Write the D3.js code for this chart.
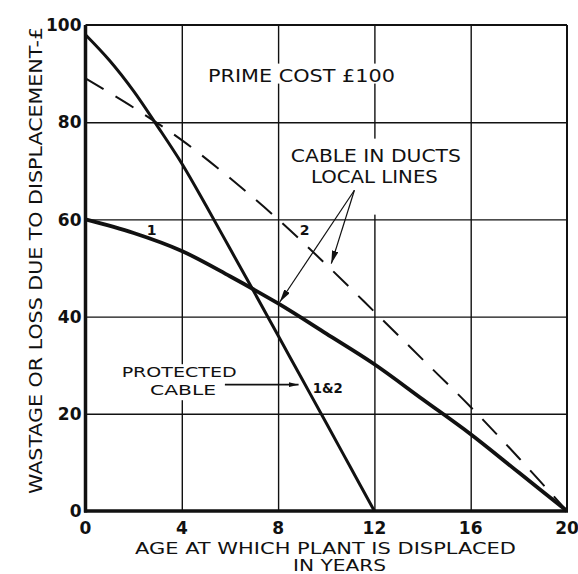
<!DOCTYPE html>
<html><head><meta charset="utf-8">
<script src="https://cdn.jsdelivr.net/npm/d3@7"></script>
<style>
body{margin:0;background:#fff}
svg{display:block}
text{font-family:"DejaVu Sans",sans-serif;fill:#111}
</style>
</head><body>
<svg id="c" width="578" height="574"></svg>
<script>
// ---- data ----
const xTicks = [0, 4, 8, 12, 16, 20];
const yTicks = [0, 20, 40, 60, 80, 100];
const protectedX = [0, 1, 2, 3, 4, 5, 6, 7, 8, 9, 10, 11, 12];
const protectedY = [98, 92.7, 86.4, 79.1, 71.5, 62.9, 54.0, 45.1, 36.1, 27.1, 18.1, 9.05, 0];
const ductsX = [0, 2, 4, 6, 8, 10, 12, 14, 16, 18, 20];
const ducts1Y = [60, 57.2, 53.5, 48.3, 42.7, 36.5, 30.2, 23.0, 15.8, 7.9, 0];
const ducts2Y = [89, 83.0, 76.3, 68.5, 60, 50.7, 41.0, 31.2, 21.4, 10.9, 0];
const xTitle1 = "AGE AT WHICH PLANT IS DISPLACED";
const xTitle2 = "IN YEARS";
const yTitle = "WASTAGE OR LOSS DUE TO DISPLACEMENT-£";

// ---- layout ----
const svg = d3.select("#c");
const L = 85.5, R = 567, T = 25, B = 511;
const x = d3.scaleLinear([0, 20], [L, R]);
const y = d3.scaleLinear([0, 100], [B, T]);
const ink = "#111";

// grid
const g = svg.append("g");
g.append("g").attr("transform", `translate(0,${B})`)
  .call(d3.axisBottom(x).tickValues(xTicks.slice(1, -1)).tickSize(-(B - T)).tickFormat(""))
  .call(s => s.select(".domain").remove())
  .call(s => s.selectAll("line").attr("stroke", ink).attr("stroke-width", 1.4));
g.append("g").attr("transform", `translate(${L},0)`)
  .call(d3.axisLeft(y).tickValues(yTicks.slice(1, -1)).tickSize(-(R - L)).tickFormat(""))
  .call(s => s.select(".domain").remove())
  .call(s => s.selectAll("line").attr("stroke", ink).attr("stroke-width", 1.4));

// frame
g.append("line").attr("x1", x(0)).attr("x2", x(20)).attr("y1", y(100)).attr("y2", y(100)).attr("stroke", ink).attr("stroke-width", 2);
g.append("line").attr("x1", x(20)).attr("x2", x(20)).attr("y1", y(100)).attr("y2", y(0)).attr("stroke", ink).attr("stroke-width", 2);

// white knock-outs behind lettering
function knock(cx, cy, w, h) {
  svg.append("rect").attr("x", x(cx) - w / 2).attr("y", y(cy) - h / 2).attr("width", w).attr("height", h).attr("fill", "#fff");
}
knock(8.97, 90.0, 194, 20);
knock(12.06, 68.8, 180, 76);
knock(3.95, 26.5, 122, 36);

// axes lines (thick)
svg.append("line").attr("x1", x(0)).attr("x2", x(0)).attr("y1", y(100)).attr("y2", y(0) + 1.5).attr("stroke", ink).attr("stroke-width", 3.5);
svg.append("line").attr("x1", x(0) - 1.5).attr("x2", x(20) + 1).attr("y1", y(0)).attr("y2", y(0)).attr("stroke", ink).attr("stroke-width", 3.5);

// curves
const line = d3.line().x(d => x(d[0])).y(d => y(d[1])).curve(d3.curveCatmullRom.alpha(0.5));
svg.append("path").datum(protectedX.map((v, i) => [v, protectedY[i]]))
  .attr("d", line).attr("fill", "none").attr("stroke", ink).attr("stroke-width", 3);
svg.append("path").datum(ductsX.map((v, i) => [v, ducts1Y[i]]))
  .attr("d", line).attr("fill", "none").attr("stroke", ink).attr("stroke-width", 3.8);
svg.append("path").datum(ductsX.map((v, i) => [v, ducts2Y[i]]))
  .attr("d", line).attr("fill", "none").attr("stroke", ink).attr("stroke-width", 2)
  .attr("stroke-dasharray", "21 14");

// arrow marker
const defs = svg.append("defs");
defs.append("marker").attr("id", "ah").attr("viewBox", "0 0 12 6").attr("refX", 12).attr("refY", 3)
  .attr("markerWidth", 13).attr("markerHeight", 6.5).attr("markerUnits", "userSpaceOnUse").attr("orient", "auto")
  .append("path").attr("d", "M0,0 L12,3 L0,6 Z").attr("fill", ink);
defs.append("marker").attr("id", "ah2").attr("viewBox", "0 0 12 6").attr("refX", 12).attr("refY", 3)
  .attr("markerWidth", 10).attr("markerHeight", 5.5).attr("markerUnits", "userSpaceOnUse").attr("orient", "auto")
  .append("path").attr("d", "M0,0 L12,3 L0,6 Z").attr("fill", ink);

function arrow(x0, y0, x1, y1, m, w) {
  svg.append("line").attr("x1", x(x0)).attr("y1", y(y0)).attr("x2", x(x1)).attr("y2", y(y1))
    .attr("stroke", ink).attr("stroke-width", w).attr("marker-end", `url(#${m})`);
}
arrow(11.17, 66.0, 8.07, 43.0, "ah", 1.2);
arrow(11.17, 66.0, 10.21, 50.9, "ah", 1.2);
arrow(5.79, 26.0, 8.85, 26.0, "ah2", 1.6);

// lettering
function label(txt, cx, cy, size, len, anchor = "middle", weight = "normal") {
  const t = svg.append("text").attr("x", x(cx)).attr("y", y(cy)).attr("font-size", size)
    .attr("text-anchor", anchor).attr("font-weight", weight).text(txt);
  if (len) t.attr("textLength", len).attr("lengthAdjust", "spacingAndGlyphs");
  return t;
}
label("PRIME COST £100", 8.97, 88.37, 17, 187);
label("CABLE IN DUCTS", 12.06, 71.9, 17, 170);
label("LOCAL LINES", 12.0, 67.4, 17, 127);
label("PROTECTED", 3.89, 27.55, 14, 115);
label("CABLE", 4.05, 23.95, 14, 66);
label("1&2", 9.44, 24.3, 14, 30, "start", "bold");
label("1", 2.75, 56.8, 14, null, "middle", "bold");
label("2", 9.1, 56.8, 14, null, "middle", "bold");

// tick labels
svg.append("g").selectAll("text").data(yTicks).join("text")
  .attr("x", L - 4).attr("y", d => y(d) + 6.2).attr("text-anchor", "end")
  .attr("font-size", 17).attr("font-weight", "bold").text(d => d);
svg.append("g").selectAll("text").data(xTicks).join("text")
  .attr("x", d => x(d)).attr("y", B + 23).attr("text-anchor", "middle")
  .attr("font-size", 17).attr("font-weight", "bold").text(d => d);

// axis titles
svg.append("text").attr("x", 325.5).attr("y", 554).attr("text-anchor", "middle")
  .attr("font-size", 15).attr("textLength", 381).attr("lengthAdjust", "spacingAndGlyphs").text(xTitle1);
svg.append("text").attr("x", 339.5).attr("y", 571).attr("text-anchor", "middle")
  .attr("font-size", 15).attr("textLength", 93).attr("lengthAdjust", "spacingAndGlyphs").text(xTitle2);
svg.append("text").attr("transform", "translate(41.5,260.5) rotate(-90)").attr("text-anchor", "middle")
  .attr("font-size", 17).attr("textLength", 467).attr("lengthAdjust", "spacingAndGlyphs").text(yTitle);
</script>
</body></html>
